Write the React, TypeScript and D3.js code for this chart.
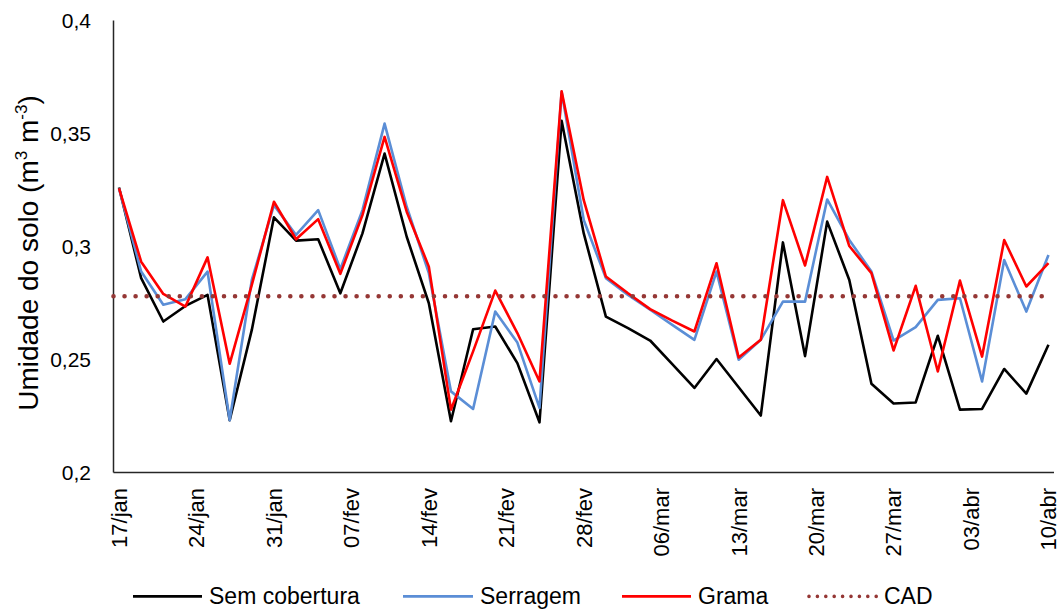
import React from "react";
import * as d3 from "d3";

const dates: string[] = [
  "2016-01-17", "2016-01-19", "2016-01-21", "2016-01-23", "2016-01-25", "2016-01-27", "2016-01-29",
  "2016-01-31", "2016-02-02", "2016-02-04", "2016-02-06", "2016-02-08", "2016-02-10", "2016-02-12",
  "2016-02-14", "2016-02-16", "2016-02-18", "2016-02-20", "2016-02-22", "2016-02-24", "2016-02-26",
  "2016-02-28", "2016-03-01", "2016-03-03", "2016-03-05", "2016-03-07", "2016-03-09", "2016-03-11",
  "2016-03-13", "2016-03-15", "2016-03-17", "2016-03-19", "2016-03-21", "2016-03-23", "2016-03-25",
  "2016-03-27", "2016-03-29", "2016-03-31", "2016-04-02", "2016-04-04", "2016-04-06", "2016-04-08",
  "2016-04-10",
];

const semCobertura: number[] = [
  0.3261, 0.286, 0.2668, 0.2737, 0.2786, 0.2231, 0.2631, 0.3129, 0.3026, 0.3032, 0.2793,
  0.3058, 0.3411, 0.3043, 0.2749, 0.2227, 0.2634, 0.2646, 0.2484, 0.2222, 0.3556,
  0.3058, 0.269, 0.2639, 0.2584, 0.248, 0.2374, 0.2502, 0.2377, 0.2252, 0.3018,
  0.2515, 0.311, 0.2852, 0.2393, 0.2305, 0.231, 0.2605, 0.2278, 0.2281, 0.2458,
  0.2349, 0.2565,
];

const serragem: number[] = [
  0.3257, 0.2889, 0.2742, 0.2767, 0.2889, 0.2231, 0.2852, 0.3183, 0.3051, 0.3161, 0.29,
  0.3161, 0.3544, 0.3176, 0.2882, 0.2359, 0.2281, 0.2712, 0.2575, 0.2286, 0.3684,
  0.3117, 0.286, 0.2786, 0.272, 0.2653, 0.2587, 0.2889, 0.2499, 0.2587, 0.2756,
  0.2756, 0.3208, 0.3029, 0.2889, 0.2584, 0.2643, 0.2764, 0.2771, 0.2403, 0.294,
  0.2712, 0.2962,
];

const grama: number[] = [
  0.3257, 0.2933, 0.279, 0.2734, 0.2952, 0.2481, 0.283, 0.3198, 0.3032, 0.3121, 0.2879,
  0.3139, 0.3485, 0.3154, 0.2911, 0.2278, 0.2536, 0.2805, 0.2617, 0.2403, 0.3687,
  0.3205, 0.2867, 0.2793, 0.2723, 0.2672, 0.2624, 0.2926, 0.2509, 0.2587, 0.3205,
  0.2916, 0.3308, 0.3002, 0.2882, 0.254, 0.2826, 0.2447, 0.2849, 0.2513, 0.3029,
  0.2823, 0.2926,
];

const cadValue = 0.278;

const tickDates: string[] = [
  "2016-01-17", "2016-01-24", "2016-01-31", "2016-02-07", "2016-02-14", "2016-02-21", "2016-02-28",
  "2016-03-06", "2016-03-13", "2016-03-20", "2016-03-27", "2016-04-03", "2016-04-10",
];
const tickLabels: string[] = [
  "17/jan", "24/jan", "31/jan", "07/fev", "14/fev", "21/fev", "28/fev",
  "06/mar", "13/mar", "20/mar", "27/mar", "03/abr", "10/abr",
];

const yTicks: number[] = [0.2, 0.25, 0.3, 0.35, 0.4];
const yTickLabels: string[] = ["0,2", "0,25", "0,3", "0,35", "0,4"];

const seriesNames: string[] = ["Sem cobertura", "Serragem", "Grama", "CAD"];

export default function App() {
  const W = 1061;
  const H = 609;
  const left = 113.5;
  const right = 1054;
  const top = 20.5;
  const bottom = 472.5;
  const font = "'Liberation Sans', Arial, sans-serif";

  const parse = d3.timeParse("%Y-%m-%d");
  const xDates = dates.map((d) => parse(d) as Date);
  const x = d3
    .scaleTime()
    .domain([d3.timeHour.offset(xDates[0], -12), d3.timeHour.offset(xDates[xDates.length - 1], 12)])
    .range([left, right]);
  const y = d3.scaleLinear().domain([0.2, 0.4]).range([bottom, top]);

  const mk = (vals: number[]) =>
    d3
      .line<number>()
      .x((_, i) => x(xDates[i]))
      .y((v) => y(v))(vals) || "";

  const series = [
    { name: seriesNames[0], vals: semCobertura, color: "#000000" },
    { name: seriesNames[1], vals: serragem, color: "#5B8ED6" },
    { name: seriesNames[2], vals: grama, color: "#FF0000" },
  ];
  const cadColor = "#953735";

  const legendItems = [
    { name: seriesNames[0], color: "#000000", x0: 133, x1: 202, tx: 209, dotted: false },
    { name: seriesNames[1], color: "#5B8ED6", x0: 403, x1: 473, tx: 480, dotted: false },
    { name: seriesNames[2], color: "#FF0000", x0: 622, x1: 691, tx: 698, dotted: false },
    { name: seriesNames[3], color: cadColor, x0: 809, x1: 877, tx: 884, dotted: true },
  ];
  const legendBase = 603.8;

  return (
    <svg width={W} height={H} style={{ display: "block", position: "absolute", left: 0, top: 0 }}>
      <rect x={0} y={0} width={W} height={H} fill="#fff" />
      {/* axes */}
      <line x1={left} y1={top} x2={left} y2={bottom} stroke="#262626" strokeWidth={1.5} />
      <line x1={left} y1={bottom} x2={right} y2={bottom} stroke="#262626" strokeWidth={1.5} />
      {yTicks.map((t, i) => (
        <text
          key={"y" + i}
          x={91}
          y={y(t)}
          dy="0.35em"
          textAnchor="end"
          fontFamily={font}
          fontSize={21}
          fill="#000"
        >
          {yTickLabels[i]}
        </text>
      ))}
      {tickDates.map((d, i) => {
        const px = x(parse(d) as Date);
        return (
          <text
            key={"x" + i}
            transform={`translate(${px},488) rotate(-90)`}
            dy="0.36em"
            textAnchor="end"
            fontFamily={font}
            fontSize={22}
            fill="#000"
          >
            {tickLabels[i]}
          </text>
        );
      })}
      <text
        transform={`translate(38,253) rotate(-90)`}
        textAnchor="middle"
        fontFamily={font}
        fontSize={28}
        fill="#000"
      >
        Umidade do solo (m
        <tspan fontSize={17} dy={-11}>3</tspan>
        <tspan dy={11}> m</tspan>
        <tspan fontSize={17} dy={-11}>-3</tspan>
        <tspan dy={11}>)</tspan>
      </text>
      {/* series */}
      {series.map((s) => (
        <path key={s.name} d={mk(s.vals)} fill="none" stroke={s.color} strokeWidth={2.6} strokeLinejoin="round" />
      ))}
      <line
        x1={left}
        x2={x(xDates[xDates.length - 1])}
        y1={y(cadValue)}
        y2={y(cadValue)}
        stroke={cadColor}
        strokeWidth={4.6}
        strokeLinecap="round"
        strokeDasharray="0 11.05"
      />
      {/* legend */}
      {legendItems.map((l) => (
        <g key={l.name}>
          <line
            x1={l.x0}
            x2={l.x1}
            y1={legendBase - 7.4}
            y2={legendBase - 7.4}
            stroke={l.color}
            strokeWidth={l.dotted ? 3.6 : 2.6}
            strokeLinecap={l.dotted ? "round" : "butt"}
            strokeDasharray={l.dotted ? "0 8.4" : undefined}
          />
          <text x={l.tx} y={legendBase} fontFamily={font} fontSize={23} fill="#000">
            {l.name}
          </text>
        </g>
      ))}
    </svg>
  );
}
